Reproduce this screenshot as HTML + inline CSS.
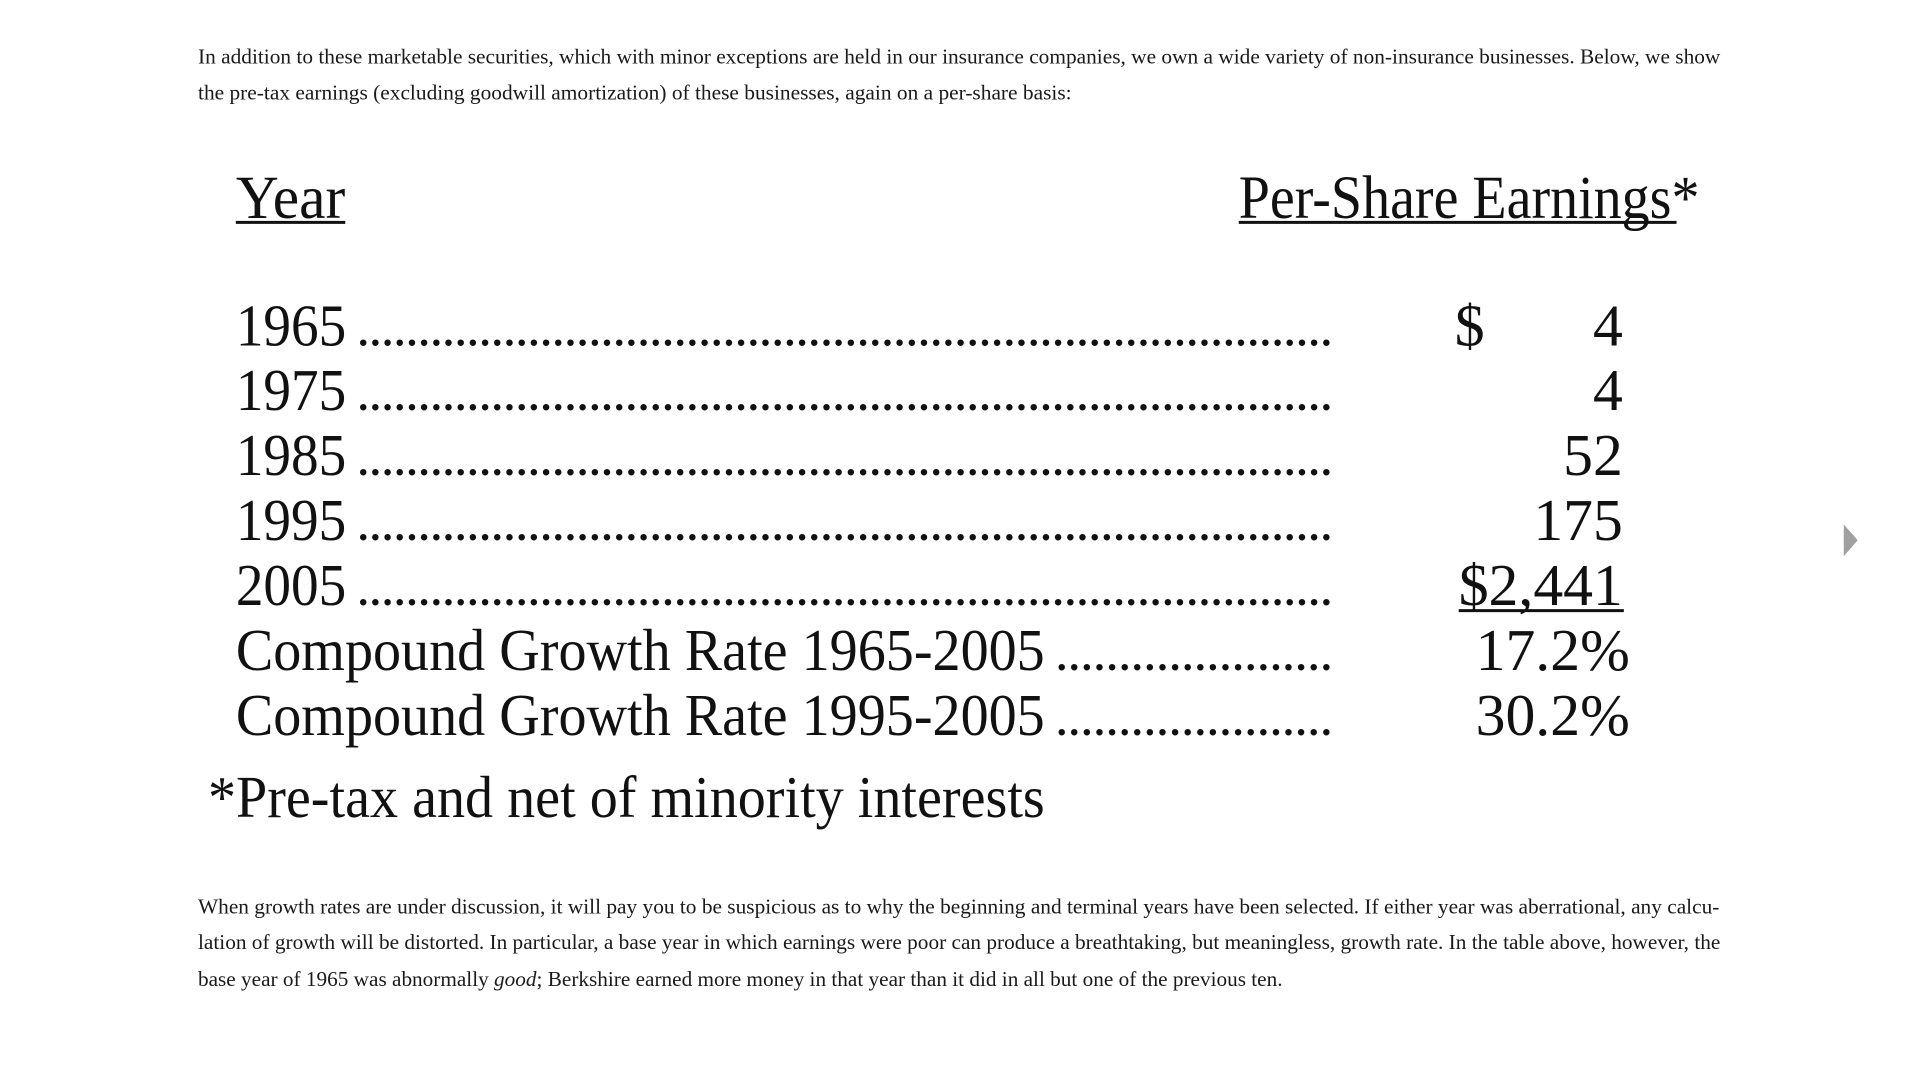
<!DOCTYPE html>
<html><head><meta charset="utf-8">
<style>
html,body{margin:0;padding:0;background:#fff;width:1920px;height:1080px;overflow:hidden}
svg{display:block}
.p{font-family:"Liberation Serif",serif;font-size:21px;fill:#1a1a1a}
.t{font-family:"Liberation Serif",serif;fill:#111}
</style></head>
<body>
<svg id="page" width="1920" height="1080" viewBox="0 0 1920 1080" xmlns="http://www.w3.org/2000/svg">
<g transform="scale(0.995)">
<g>
<text class="p" x="199" y="64" textLength="1530" lengthAdjust="spacingAndGlyphs">In addition to these marketable securities, which with minor exceptions are held in our insurance companies, we own a wide variety of non-insurance businesses. Below, we show</text>
<text class="p" x="199" y="100" textLength="878" lengthAdjust="spacingAndGlyphs">the pre-tax earnings (excluding goodwill amortization) of these businesses, again on a per-share basis:</text>
</g>
<g id="table">
<text class="t" x="237" y="219" font-size="62" textLength="110" lengthAdjust="spacingAndGlyphs">Year</text>
<rect x="237" y="222" width="110" height="3" fill="#111"/>
<text class="t" x="1245" y="219" font-size="62" textLength="463" lengthAdjust="spacingAndGlyphs">Per-Share Earnings*</text>
<rect x="1245" y="222" width="440" height="3" fill="#111"/>
</g>
<g>
<text class="p" x="199" y="918" textLength="1529" lengthAdjust="spacingAndGlyphs">When growth rates are under discussion, it will pay you to be suspicious as to why the beginning and terminal years have been selected. If either year was aberrational, any calcu-</text>
<text class="p" x="199" y="954" textLength="1530" lengthAdjust="spacingAndGlyphs">lation of growth will be distorted. In particular, a base year in which earnings were poor can produce a breathtaking, but meaningless, growth rate. In the table above, however, the</text>
<text class="p" x="199" y="991" textLength="1090" lengthAdjust="spacingAndGlyphs">base year of 1965 was abnormally <tspan font-style="italic">good</tspan>; Berkshire earned more money in that year than it did in all but one of the previous ten.</text>
</g>
<polygon points="1853,527 1867,543 1853,559" fill="#a0a0a0"/>
</g>
</svg>
<script>
const rowLabels = ["1965","1975","1985","1995","2005","Compound Growth Rate 1965-2005","Compound Growth Rate 1995-2005"];
const rowValues = ["4","4","52","175","$2,441","17.2%","30.2%"];
const footnote = "*Pre-tax and net of minority interests";
const NS = "http://www.w3.org/2000/svg";
const table = document.getElementById('table');
const rowY = i => 347 + i * 65.3;
function mk(tag, attrs){const e=document.createElementNS(NS,tag);for(const k in attrs)e.setAttribute(k,attrs[k]);return e;}
rowLabels.forEach((lab,i)=>{
  const y = rowY(i);
  const isLong = lab.length > 6;
  const lw = isLong ? lab.length * 27.1 : 111;
  const t = mk('text',{class:'t',x:237,y:y,'font-size':60,textLength:lw,lengthAdjust:'spacingAndGlyphs'});
  t.textContent = lab;
  
  
  table.appendChild(t);
  const dx = 237 + lw + 12;
  const dw = 1338 - dx;
  const d = mk('text',{class:'t',x:dx,y:y,'font-size':40,'font-weight':'bold',textLength:dw,lengthAdjust:'spacing'});
  d.textContent = '.'.repeat(Math.max(3, Math.round(dw/12.3)));
  
  
  table.appendChild(d);
  const v = rowValues[i];
  const isPct = v.indexOf('%') >= 0;
  const v2 = mk('text',{class:'t',x:isPct?1638:1631,y:y,'font-size':60,'text-anchor':'end'});
  v2.textContent = v;
  
  
  table.appendChild(v2);
  if (i === 0) {
    const s = mk('text',{class:'t',x:1462,y:y,'font-size':60});
    s.textContent = '$';
    
    
    table.appendChild(s);
  }
  if (v.indexOf('$') === 0) {
    const bb = v2.getBBox();
    const u = mk('rect',{x:bb.x,y:y+4,width:1632-bb.x,height:3,fill:'#111'});
    
    
    table.appendChild(u);
  }
});
const f = mk('text',{class:'t',x:209,y:821,'font-size':60,textLength:841,lengthAdjust:'spacingAndGlyphs'});
f.textContent = footnote;


table.appendChild(f);
</script>
</body></html>
